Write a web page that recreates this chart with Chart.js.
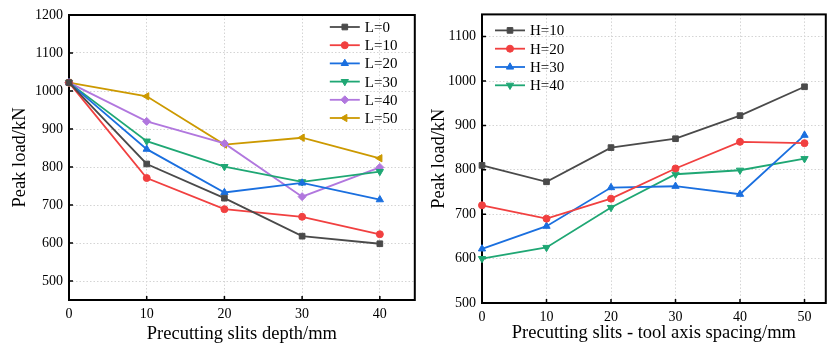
<!DOCTYPE html>
<html>
<head>
<meta charset="utf-8">
<script src="https://cdn.jsdelivr.net/npm/chart.js@4.4.1/dist/chart.umd.min.js"></script>
<style>
body { margin: 0; background: #fff; }
#wrap { position: relative; width: 831px; height: 347px; }
#box1 { position: absolute; left: 0; top: 0; }
#box2 { position: absolute; left: 420px; top: 0; }
</style>
</head>
<body>
<div id="wrap">
	<div id="box1"><canvas id="chart1" width="420" height="347"></canvas></div>
	<div id="box2"><canvas id="chart2" width="411" height="347"></canvas></div>
</div>
<script>
// left chart: peak load vs precutting slit depth
var depthX = [0, 10, 20, 30, 40];
var depthNames = ["L=0", "L=10", "L=20", "L=30", "L=40", "L=50"];
var loadL0 = [1022, 808, 718, 618, 598];
var loadL10 = [1022, 771, 689, 669, 623];
var loadL20 = [1022, 847, 733, 758, 714];
var loadL30 = [1022, 868, 801, 761, 788];
var loadL40 = [1022, 920, 862, 722, 799];
var loadL50 = [1022, 986, 859, 877, 823];
var depthXTicks = [0, 10, 20, 30, 40];
var depthYTicks = [500, 600, 700, 800, 900, 1000, 1100, 1200];

// right chart: peak load vs slit - tool axis spacing
var spacingX = [0, 10, 20, 30, 40, 50];
var spacingNames = ["H=10", "H=20", "H=30", "H=40"];
var loadH10 = [810, 773, 850, 870, 922, 987];
var loadH20 = [720, 690, 735, 803, 863, 860];
var loadH30 = [622, 673, 760, 763, 745, 878];
var loadH40 = [600, 625, 715, 790, 799, 825];
var spacingXTicks = [0, 10, 20, 30, 40, 50];
var spacingYTicks = [500, 600, 700, 800, 900, 1000, 1100];

var colors = ["#4a4a4a", "#f14040", "#1a6fdf", "#1fa774", "#b177de", "#cc9900"];
var markers = [
	{ style: "rect", rot: 0, r: 4 },
	{ style: "circle", rot: 0, r: 3.5 },
	{ style: "triangle", rot: 0, r: 4.2 },
	{ style: "triangle", rot: 180, r: 4.2 },
	{ style: "rectRot", rot: 0, r: 4 },
	{ style: "triangle", rot: 270, r: 4.2 }
];
var serif = "'Liberation Serif', 'Times New Roman', serif";

function makeDataset(name, xs, ys, i) {
	return {
		label: name,
		data: xs.map(function (x, k) { return { x: x, y: ys[k] }; }),
		borderColor: colors[i],
		backgroundColor: colors[i],
		borderWidth: 1.8,
		pointStyle: markers[i].style,
		pointRotation: markers[i].rot,
		pointRadius: markers[i].r,
		pointBorderWidth: 1,
		tension: 0,
		clip: false
	};
}

// black box round the plot, with short inward tick marks
var framePlugin = {
	id: "frame",
	beforeDatasetsDraw: function (chart) {
		var a = chart.chartArea, ctx = chart.ctx;
		var xs = chart.scales.x, ys = chart.scales.y;
		ctx.save();
		ctx.strokeStyle = "#000";
		ctx.lineWidth = 1.5;
		ctx.beginPath();
		xs.ticks.forEach(function (t) {
			var px = xs.getPixelForValue(t.value);
			ctx.moveTo(px, a.bottom);
			ctx.lineTo(px, a.bottom - 4);
		});
		ys.ticks.forEach(function (t) {
			var py = ys.getPixelForValue(t.value);
			ctx.moveTo(a.left, py);
			ctx.lineTo(a.left + 4, py);
		});
		ctx.stroke();
		ctx.lineWidth = 2;
		ctx.strokeRect(a.left, a.top, a.right - a.left, a.bottom - a.top);
		ctx.restore();
	}
};

// legend drawn inside the plot area
var innerLegend = {
	id: "innerLegend",
	afterDraw: function (chart, args, opts) {
		var a = chart.chartArea, ctx = chart.ctx;
		var x0 = opts.fromRight ? a.right - opts.dx : a.left + opts.dx;
		ctx.save();
		ctx.font = "15px " + serif;
		ctx.textBaseline = "middle";
		chart.data.datasets.forEach(function (ds, i) {
			var y = a.top + opts.dy + i * opts.gap;
			ctx.strokeStyle = ds.borderColor;
			ctx.fillStyle = ds.borderColor;
			ctx.lineWidth = 1.8;
			ctx.beginPath();
			ctx.moveTo(x0, y);
			ctx.lineTo(x0 + 30, y);
			ctx.stroke();
			if (Chart.helpers && Chart.helpers.drawPoint) {
				ctx.lineWidth = 1;
				Chart.helpers.drawPoint(ctx, {
					pointStyle: ds.pointStyle, rotation: ds.pointRotation,
					radius: ds.pointRadius, borderWidth: 1
				}, x0 + 15, y);
			}
			ctx.fillStyle = "#000";
			ctx.fillText(ds.label, x0 + 35, y + 1);
		});
		ctx.restore();
	}
};

function plainLabel(v) { return String(v); }

function axisX(min, max, tickVals, title, height) {
	return {
		type: "linear", min: min, max: max,
		afterBuildTicks: function (s) { s.ticks = tickVals.map(function (v) { return { value: v }; }); },
		afterFit: function (s) { s.height = height; },
		grid: { color: "#d4d4d4", lineWidth: 1, drawTicks: false },
		border: { display: false, dash: [1.5, 2] },
		ticks: { color: "#000", font: { family: serif, size: 14 }, padding: 6, maxRotation: 0, callback: plainLabel },
		title: { display: true, text: title, color: "#000", font: { family: serif, size: 18.5 }, padding: 0 }
	};
}

function axisY(min, max, tickVals, width) {
	return {
		type: "linear", min: min, max: max,
		afterBuildTicks: function (s) { s.ticks = tickVals.map(function (v) { return { value: v }; }); },
		afterFit: function (s) { s.width = width; },
		grid: { color: "#d4d4d4", lineWidth: 1, drawTicks: false },
		border: { display: false, dash: [1.5, 2] },
		ticks: { color: "#000", font: { family: serif, size: 14 }, padding: 6, callback: plainLabel },
		title: { display: true, text: "Peak load/kN", color: "#000", font: { family: serif, size: 18.5 }, padding: 0 }
	};
}

var depthSeries = [loadL0, loadL10, loadL20, loadL30, loadL40, loadL50];
new Chart(document.getElementById("chart1"), {
	type: "line",
	data: {
		datasets: depthSeries.map(function (ys, i) { return makeDataset(depthNames[i], depthX, ys, i); })
	},
	options: {
		responsive: false,
		animation: false,
		layout: { padding: { left: 9, top: 15, right: 2, bottom: 2 } },
		scales: {
			x: axisX(0, 44.5, depthXTicks, "Precutting slits depth/mm", 45),
			y: axisY(450, 1200, depthYTicks, 60)
		},
		plugins: {
			legend: { display: false },
			tooltip: { enabled: false },
			innerLegend: { fromRight: true, dx: 85, dy: 12, gap: 18.2 }
		}
	},
	plugins: [framePlugin, innerLegend]
});

var spacingSeries = [loadH10, loadH20, loadH30, loadH40];
new Chart(document.getElementById("chart2"), {
	type: "line",
	data: {
		datasets: spacingSeries.map(function (ys, i) { return makeDataset(spacingNames[i], spacingX, ys, i); })
	},
	options: {
		responsive: false,
		animation: false,
		layout: { padding: { left: 8, top: 13, right: 1, bottom: 3 } },
		scales: {
			x: axisX(0, 53.3, spacingXTicks, "Precutting slits - tool axis spacing/mm", 41),
			y: axisY(500, 1150, spacingYTicks, 54)
		},
		plugins: {
			legend: { display: false },
			tooltip: { enabled: false },
			innerLegend: { fromRight: false, dx: 13, dy: 16, gap: 18.3 }
		}
	},
	plugins: [framePlugin, innerLegend]
});
</script>
</body>
</html>
